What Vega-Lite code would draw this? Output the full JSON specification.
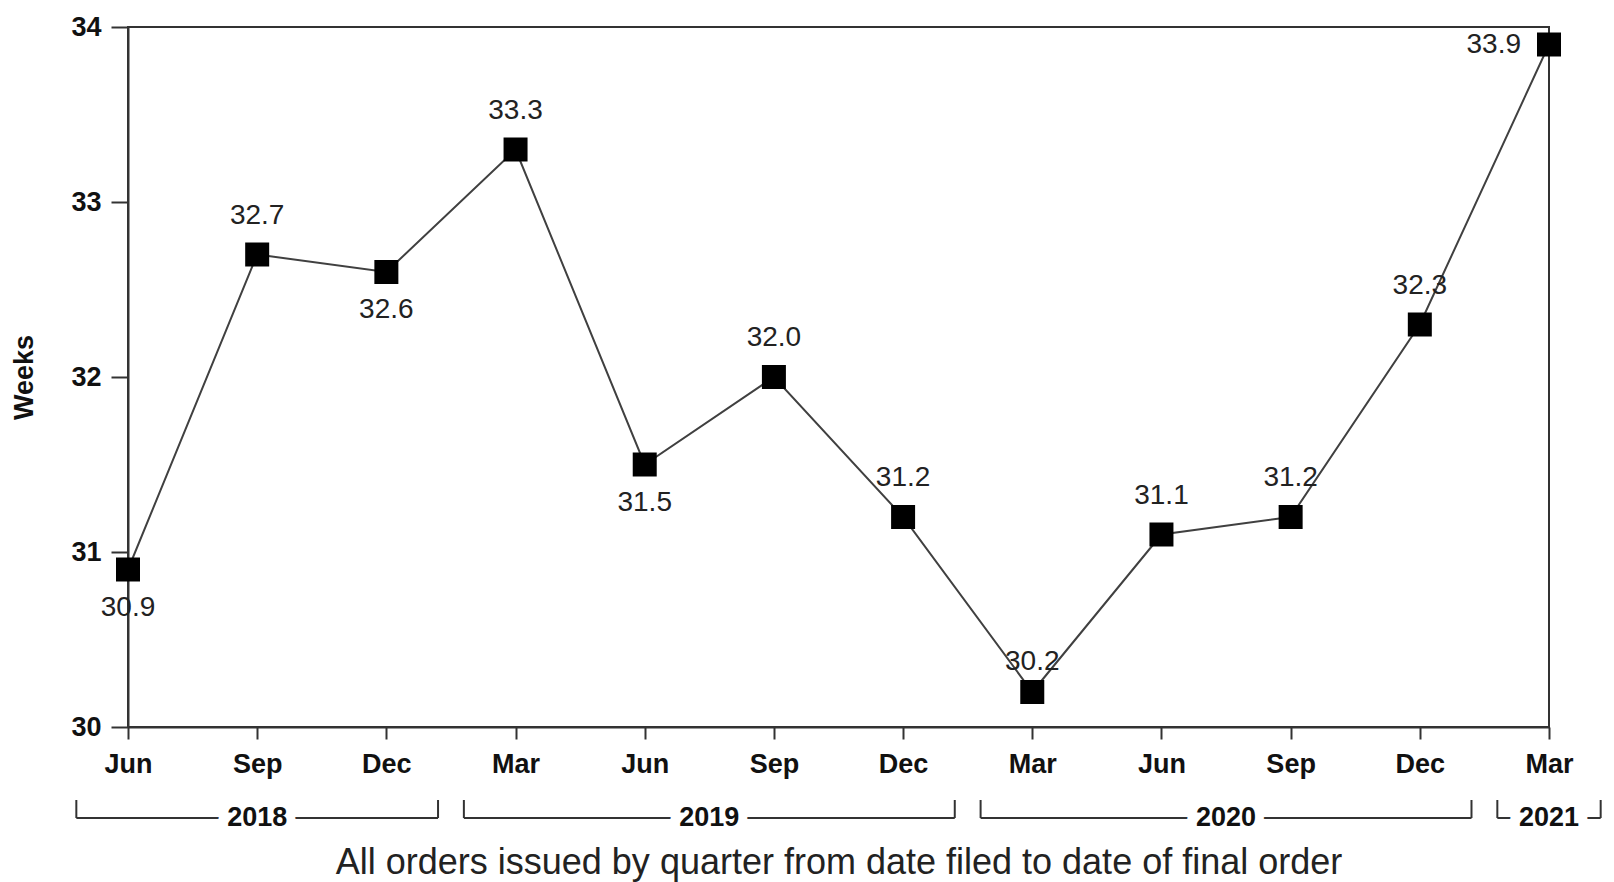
{
  "$schema": "https://vega.github.io/schema/vega-lite/v6.json",
  "padding": {"left": 9, "top": 12, "right": 5, "bottom": 5},
  "background": "white",
  "bounds": "flush",
  "spacing": 73,
  "config": {
    "font": "Liberation Sans",
    "view": {"stroke": null},
    "axis": {"grid": false}
  },
  "datasets": {
    "quarters": [
      {"q": 0, "month": "Jun", "year": 2018, "weeks": 30.9},
      {"q": 1, "month": "Sep", "year": 2018, "weeks": 32.7},
      {"q": 2, "month": "Dec", "year": 2018, "weeks": 32.6},
      {"q": 3, "month": "Mar", "year": 2019, "weeks": 33.3},
      {"q": 4, "month": "Jun", "year": 2019, "weeks": 31.5},
      {"q": 5, "month": "Sep", "year": 2019, "weeks": 32.0},
      {"q": 6, "month": "Dec", "year": 2019, "weeks": 31.2},
      {"q": 7, "month": "Mar", "year": 2020, "weeks": 30.2},
      {"q": 8, "month": "Jun", "year": 2020, "weeks": 31.1},
      {"q": 9, "month": "Sep", "year": 2020, "weeks": 31.2},
      {"q": 10, "month": "Dec", "year": 2020, "weeks": 32.3},
      {"q": 11, "month": "Mar", "year": 2021, "weeks": 33.9}
    ],
    "years": [
      {"year": "2018", "from": -0.4, "to": 2.4, "mid": 1},
      {"year": "2019", "from": 2.6, "to": 6.4, "mid": 4.5},
      {"year": "2020", "from": 6.6, "to": 10.4, "mid": 8.5},
      {"year": "2021", "from": 10.6, "to": 11.4, "mid": 11}
    ]
  },
  "vconcat": [
    {
      "width": 1421,
      "height": 700,
      "view": {"stroke": "#333", "strokeWidth": 2},
      "data": {"name": "quarters"},
      "encoding": {
        "x": {
          "field": "q",
          "type": "quantitative",
          "scale": {"domain": [0, 11], "nice": false, "zero": false},
          "axis": {
            "values": [0, 1, 2, 3, 4, 5, 6, 7, 8, 9, 10, 11],
            "labelExpr": "['Jun','Sep','Dec','Mar'][datum.value % 4]",
            "title": null,
            "domainColor": "#333",
            "domainWidth": 2,
            "tickColor": "#333",
            "tickWidth": 2,
            "tickSize": 12,
            "labelPadding": 12,
            "labelFontSize": 27,
            "labelFontWeight": "bold",
            "labelColor": "#111",
            "labelFlush": false,
            "labelOverlap": false
          }
        },
        "y": {
          "field": "weeks",
          "type": "quantitative",
          "scale": {"domain": [30, 34], "nice": false, "zero": false},
          "axis": {
            "values": [30, 31, 32, 33, 34],
            "title": "Weeks",
            "titleFontSize": 27,
            "titleFontWeight": "bold",
            "titleColor": "#111",
            "titlePadding": 32,
            "domainColor": "#333",
            "domainWidth": 2,
            "tickColor": "#333",
            "tickWidth": 2,
            "tickSize": 17,
            "labelPadding": 10,
            "labelFontSize": 27,
            "labelFontWeight": "bold",
            "labelColor": "#111"
          }
        }
      },
      "layer": [
        {"mark": {"type": "line", "color": "#404040", "strokeWidth": 2}},
        {"mark": {"type": "point", "shape": "square", "filled": true, "color": "black", "opacity": 1, "size": 576}},
        {
          "transform": [{"filter": "datum.q != 0 && datum.q != 2 && datum.q != 4 && datum.q != 7 && datum.q != 11"}],
          "mark": {"type": "text", "fontSize": 28, "color": "#222", "baseline": "middle", "dy": -39},
          "encoding": {"text": {"field": "weeks", "type": "quantitative", "format": ".1f"}}
        },
        {
          "transform": [{"filter": "datum.q == 7"}],
          "mark": {"type": "text", "fontSize": 28, "color": "#222", "baseline": "middle", "dy": -30},
          "encoding": {"text": {"field": "weeks", "type": "quantitative", "format": ".1f"}}
        },
        {
          "transform": [{"filter": "datum.q == 0 || datum.q == 2 || datum.q == 4"}],
          "mark": {"type": "text", "fontSize": 28, "color": "#222", "baseline": "middle", "dy": 38},
          "encoding": {"text": {"field": "weeks", "type": "quantitative", "format": ".1f"}}
        },
        {
          "transform": [{"filter": "datum.q == 11"}],
          "mark": {"type": "text", "fontSize": 28, "color": "#222", "baseline": "middle", "align": "right", "dx": -28},
          "encoding": {"text": {"field": "weeks", "type": "quantitative", "format": ".1f"}}
        }
      ]
    },
    {
      "width": 1421,
      "height": 18,
      "data": {"name": "years"},
      "layer": [
        {
          "mark": {"type": "rule", "color": "#333", "strokeWidth": 2},
          "encoding": {
            "x": {
              "field": "from",
              "type": "quantitative",
              "scale": {"domain": [0, 11], "nice": false, "zero": false},
              "axis": {
                "domain": false,
                "ticks": false,
                "labels": false,
                "title": "All orders issued by quarter from date filed to date of final order",
                "titleFontSize": 36,
                "titleFontWeight": "normal",
                "titleColor": "#222",
                "titlePadding": 27
              }
            },
            "x2": {"field": "to"},
            "y": {"datum": 0, "type": "quantitative", "scale": {"domain": [0, 1], "nice": false, "zero": false}, "axis": null}
          }
        },
        {
          "mark": {"type": "rule", "color": "#333", "strokeWidth": 2},
          "encoding": {
            "x": {"field": "from", "type": "quantitative"},
            "y": {"datum": 0, "type": "quantitative"},
            "y2": {"datum": 1}
          }
        },
        {
          "mark": {"type": "rule", "color": "#333", "strokeWidth": 2},
          "encoding": {
            "x": {"field": "to", "type": "quantitative"},
            "y": {"datum": 0, "type": "quantitative"},
            "y2": {"datum": 1}
          }
        },
        {
          "mark": {"type": "text", "fontSize": 27, "fontWeight": "bold", "color": "white", "stroke": "white", "strokeWidth": 18, "baseline": "middle"},
          "encoding": {
            "x": {"field": "mid", "type": "quantitative"},
            "y": {"datum": 0, "type": "quantitative"},
            "text": {"field": "year"}
          }
        },
        {
          "mark": {"type": "text", "fontSize": 27, "fontWeight": "bold", "color": "#111", "baseline": "middle"},
          "encoding": {
            "x": {"field": "mid", "type": "quantitative"},
            "y": {"datum": 0, "type": "quantitative"},
            "text": {"field": "year"}
          }
        }
      ]
    }
  ]
}
